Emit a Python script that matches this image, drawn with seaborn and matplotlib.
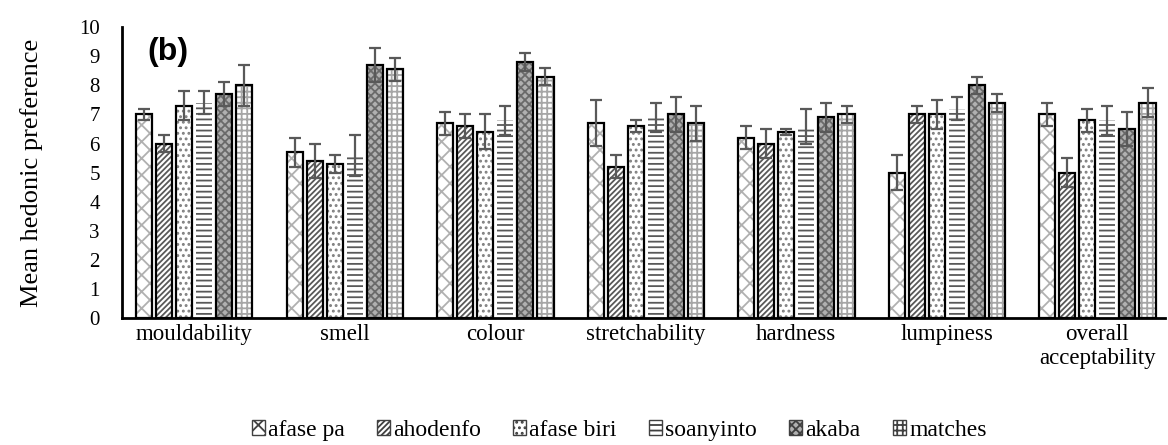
import numpy as np
import pandas as pd
import matplotlib
matplotlib.use('Agg')
import matplotlib.pyplot as plt
import seaborn as sns
from matplotlib.patches import Rectangle, Patch

attributes = ['mouldability', 'smell', 'colour', 'stretchability', 'hardness',
              'lumpiness', 'overall\nacceptability']
samples = ['afase pa', 'ahodenfo', 'afase biri', 'soanyinto', 'akaba', 'matches']

# mean scores per sample (one value per attribute)
afase_pa = [7.0, 5.7, 6.7, 6.7, 6.2, 5.0, 7.0]
ahodenfo = [6.0, 5.4, 6.6, 5.2, 6.0, 7.0, 5.0]
afase_biri = [7.3, 5.3, 6.4, 6.6, 6.4, 7.0, 6.8]
soanyinto = [7.4, 5.6, 6.8, 6.9, 6.6, 7.2, 6.8]
akaba = [7.7, 8.7, 8.8, 7.0, 6.9, 8.0, 6.5]
matches = [8.0, 8.55, 8.3, 6.7, 7.0, 7.4, 7.4]

# standard deviations
afase_pa_err = [0.2, 0.5, 0.4, 0.8, 0.4, 0.6, 0.4]
ahodenfo_err = [0.3, 0.6, 0.4, 0.4, 0.5, 0.3, 0.5]
afase_biri_err = [0.5, 0.3, 0.6, 0.2, 0.1, 0.5, 0.4]
soanyinto_err = [0.4, 0.7, 0.5, 0.5, 0.6, 0.4, 0.5]
akaba_err = [0.4, 0.6, 0.3, 0.6, 0.5, 0.3, 0.6]
matches_err = [0.7, 0.4, 0.3, 0.6, 0.3, 0.3, 0.5]

means = [afase_pa, ahodenfo, afase_biri, soanyinto, akaba, matches]
errs = [afase_pa_err, ahodenfo_err, afase_biri_err, soanyinto_err, akaba_err, matches_err]

df = pd.DataFrame({
    'attribute': np.tile(attributes, len(samples)),
    'sample': np.repeat(samples, len(attributes)),
    'mean': np.concatenate(means),
})

# hatch styles (hatch, hatch colour, face colour, outline)
styles = [
    ('xx', '#b0b0b0', 'white', True),
    ('//////', '#595959', 'white', True),
    ('...', '#7f7f7f', 'white', True),
    ('---', '#595959', 'white', False),
    ('xxxx', '#6a6a6a', '#b0b0b0', True),
    ('+++', '#a6a6a6', 'white', True),
]

plt.rcParams['hatch.linewidth'] = 1.3
plt.rcParams['font.family'] = ['Liberation Serif', 'DejaVu Serif']

fig = plt.figure(figsize=(11.68, 4.45), dpi=100)
ax = fig.add_axes([0.1045, 0.285, 0.893, 0.654])

sns.barplot(data=df, x='attribute', y='mean', hue='sample', order=attributes,
            hue_order=samples, errorbar=None, gap=0.2, width=0.8, ax=ax,
            legend=False)

bar_conts = list(ax.containers)
for i, cont in enumerate(bar_conts):
    hatch, hc, fc, outline = styles[i]
    xs = []
    for p in cont.patches:
        p.set_facecolor(fc)
        p.set_edgecolor(hc)
        p.set_hatch(hatch)
        p.set_linewidth(0)
        if outline:
            ax.add_patch(Rectangle(p.get_xy(), p.get_width(), p.get_height(),
                                   fill=False, ec='black', lw=1.6, zorder=3))
        xs.append(p.get_x() + p.get_width() / 2)
    ax.errorbar(xs, means[i], yerr=errs[i], fmt='none', ecolor='#595959',
                elinewidth=1.6, capsize=4.5, capthick=1.6, zorder=4)

ax.set_ylim(0, 10)
ax.set_xlim(-0.48, 6.45)
ax.set_yticks(range(0, 11))
ax.tick_params(axis='both', length=0)
ax.tick_params(axis='x', pad=4, labelsize=16.5)
ax.tick_params(axis='y', pad=16, labelsize=15)
ax.set_xlabel('')
ax.set_ylabel('Mean hedonic preference', fontsize=19, labelpad=26)
for s in ['top', 'right']:
    ax.spines[s].set_visible(False)
ax.spines['left'].set_linewidth(2)
ax.spines['bottom'].set_linewidth(2)

ax.text(0.024, 0.915, '(b)', transform=ax.transAxes, fontsize=23,
        fontweight='bold', family='Liberation Sans', va='center')

handles = []
for i, s in enumerate(samples):
    hatch, hc, fc, outline = styles[i]
    handles.append(Patch(facecolor=fc, edgecolor='#404040', hatch=hatch, lw=1))
fig.legend(handles, samples, loc='center', bbox_to_anchor=(0.53, 0.033), ncol=6,
           frameon=False, fontsize=17, handlelength=0.55, handleheight=0.55,
           handletextpad=0.15, columnspacing=1.35)

plt.savefig('out.png', dpi=100)
